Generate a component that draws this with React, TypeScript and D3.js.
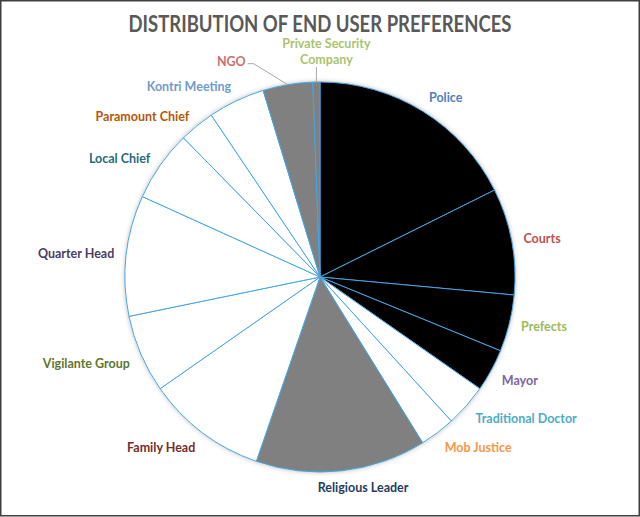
import React, { useEffect, useRef } from 'react';
import * as d3 from 'd3';

const categories = [
    "Police", "Courts", "Prefects", "Mayor", "Traditional Doctor", "Mob Justice",
    "Religious Leader", "Family Head", "Vigilante Group", "Quarter Head", "Local Chief",
    "Paramount Chief", "Kontri Meeting", "NGO", "Private Security Company",
];
const counts = [30, 15, 8, 6, 6, 5, 24, 17, 11, 17, 10, 5, 8, 7, 1];
const sliceFills = [
    "#000000", "#000000", "#000000", "#000000", "#ffffff", "#ffffff",
    "#808080", "#ffffff", "#ffffff", "#ffffff", "#ffffff",
    "#ffffff", "#ffffff", "#808080", "#808080",
];
const labelColors = [
    "#4f81bd", "#c0504d", "#9bbb59", "#8064a2", "#4bacc6", "#f79646",
    "#1f3d63", "#772c2a", "#5f7530", "#4d3b62", "#276a7c",
    "#b65708", "#729aca", "#cd6f6c", "#a9c46f",
];
const title = "DISTRIBUTION OF END USER PREFERENCES";

const W = 640;
const H = 517;

const App: React.FC = () => {
    const svgRef = useRef<SVGSVGElement | null>(null);

    useEffect(() => {
        const svg = d3.select(svgRef.current);
        svg.selectAll("*").remove();

        const cx = 320;
        const cy = 277;
        const radius = 195;
        const font = "Lato, 'Open Sans', sans-serif";

        // frame
        svg.append("rect")
            .attr("x", 0.75).attr("y", 0.75)
            .attr("width", W - 1.5).attr("height", H - 2)
            .attr("fill", "#fff")
            .attr("stroke", "#3f3f3f")
            .attr("stroke-width", 1.5);

        svg.append("text")
            .attr("x", cx).attr("y", 32)
            .attr("text-anchor", "middle")
            .attr("font-family", font)
            .attr("font-weight", 700)
            .attr("font-size", 22)
            .attr("fill", "#595959")
            .attr("textLength", 383)
            .attr("lengthAdjust", "spacingAndGlyphs")
            .text(title);

        const defs = svg.append("defs");
        const filter = defs.append("filter").attr("id", "pieShadow")
            .attr("x", "-10%").attr("y", "-10%").attr("width", "120%").attr("height", "120%");
        filter.append("feDropShadow")
            .attr("dx", 0).attr("dy", 0)
            .attr("stdDeviation", 2.5)
            .attr("flood-color", "#000")
            .attr("flood-opacity", 0.3);

        const pie = d3.pie<number>().sort(null).value(d => d);
        const arcs = pie(counts);
        const arc = d3.arc<d3.PieArcDatum<number>>().innerRadius(0).outerRadius(radius);

        const g = svg.append("g").attr("transform", `translate(${cx},${cy})`);

        // soft shadow under the pie
        g.append("circle")
            .attr("r", radius)
            .attr("fill", "#fff")
            .attr("filter", "url(#pieShadow)");

        g.selectAll("path.slice")
            .data(arcs)
            .enter()
            .append("path")
            .attr("class", "slice")
            .attr("d", d => arc(d) as string)
            .attr("fill", (d, i) => sliceFills[i])
            .attr("stroke", "#45a5e0")
            .attr("stroke-width", 1)
            .attr("stroke-linejoin", "round");

        const labelR = radius + 12;
        const leaders = ["NGO", "Private Security Company"];

        arcs.forEach((d, i) => {
            const name = categories[i];
            const mid = (d.startAngle + d.endAngle) / 2;
            const s = Math.sin(mid);
            const c = Math.cos(mid);
            const txt = g.append("text")
                .attr("font-family", font)
                .attr("font-weight", 700)
                .attr("font-size", 12.5)
                .attr("fill", labelColors[i]);

            if (leaders.includes(name)) {
                const px = s * radius;
                const py = -c * radius;
                if (name === "NGO") {
                    const ex = px - 34;
                    const ey = py - 21;
                    g.append("polyline")
                        .attr("points", `${px},${py} ${ex},${ey} ${ex - 6},${ey}`)
                        .attr("fill", "none")
                        .attr("stroke", "#a6a6a6")
                        .attr("stroke-width", 1);
                    txt.attr("x", ex - 8).attr("y", ey)
                        .attr("dy", "0.2em")
                        .attr("text-anchor", "end")
                        .text(name);
                } else {
                    const ty = py - 15;
                    g.append("line")
                        .attr("x1", px).attr("y1", py)
                        .attr("x2", px).attr("y2", ty)
                        .attr("stroke", "#a6a6a6")
                        .attr("stroke-width", 1);
                    const words = name.split(" ");
                    txt.attr("text-anchor", "middle");
                    txt.append("tspan")
                        .attr("x", px + 10).attr("y", ty - 19)
                        .text(words.slice(0, 2).join(" "));
                    txt.append("tspan")
                        .attr("x", px + 10).attr("y", ty - 3)
                        .text(words.slice(2).join(" "));
                }
                return;
            }

            const x = s * labelR;
            const y = -c * labelR;
            const anchor = s > 0.3 ? "start" : s < -0.3 ? "end" : "middle";
            txt.attr("x", anchor === "middle" ? x + 20 * s / 0.11 : x)
                .attr("y", y)
                .attr("dy", c < -0.3 ? "0.75em" : c > 0.8 ? "0.1em" : "0.35em")
                .attr("text-anchor", anchor)
                .text(name);
        });
    }, []);

    return (
        <svg ref={svgRef} width={W} height={H}
            style={{ position: "absolute", left: 0, top: 0 }} />
    );
};

export default App;
